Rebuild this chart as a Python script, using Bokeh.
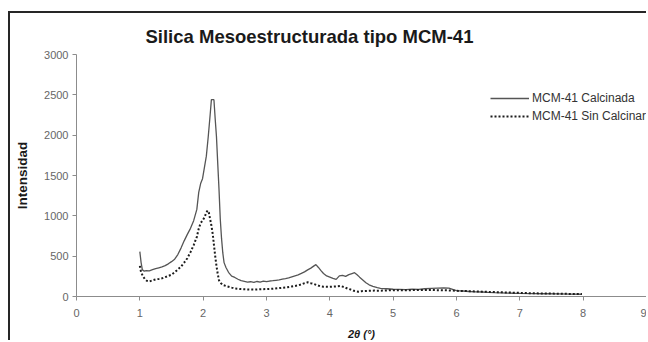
from bokeh.plotting import figure
from bokeh.models import Range1d, FixedTicker, Legend, LegendItem
from bokeh.embed import file_html
from bokeh.resources import INLINE

# ---- data ----
x_ticks = [0, 1, 2, 3, 4, 5, 6, 7, 8, 9]
y_ticks = [0, 500, 1000, 1500, 2000, 2500, 3000]

calc_x = [1.00, 1.02, 1.04, 1.07, 1.10, 1.15, 1.20, 1.25, 1.30, 1.35, 1.40, 1.45, 1.50,
          1.55, 1.60, 1.65, 1.70, 1.75, 1.80, 1.85, 1.90, 1.93, 1.96, 1.99, 2.02, 2.05,
          2.08, 2.11, 2.13, 2.17, 2.19, 2.21, 2.23, 2.25, 2.27, 2.29, 2.31, 2.33, 2.36,
          2.40, 2.45, 2.50, 2.55, 2.60, 2.65, 2.70, 2.75, 2.80, 2.85, 2.90, 2.95, 3.00,
          3.05, 3.10, 3.15, 3.20, 3.25, 3.30, 3.35, 3.40, 3.45, 3.50, 3.55, 3.60, 3.65,
          3.70, 3.75, 3.78, 3.82, 3.86, 3.90, 3.95, 4.00, 4.05, 4.10, 4.15, 4.20, 4.25,
          4.30, 4.35, 4.39, 4.43, 4.47, 4.52, 4.57, 4.62, 4.68, 4.75, 4.80, 4.90, 5.00,
          5.10, 5.20, 5.30, 5.40, 5.50, 5.60, 5.70, 5.80, 5.88, 5.95, 6.00, 6.10, 6.20,
          6.30, 6.40, 6.50, 6.60, 6.70, 6.80, 6.90, 7.00, 7.20, 7.40, 7.60, 7.80, 7.98]
calc_y = [556, 420, 330, 315, 322, 318, 332, 345, 356, 366, 382, 405, 432,
          462, 520, 600, 690, 770, 845, 940, 1080, 1290, 1400, 1460, 1600, 1740,
          1980, 2250, 2440, 2440, 2200, 1980, 1650, 1330, 960, 720, 540, 420, 360,
          300, 252, 236, 214, 196, 188, 178, 183, 175, 186, 178, 190, 184,
          192, 196, 201, 205, 214, 222, 231, 244, 256, 268, 286, 305, 330,
          352, 380, 395, 360, 320, 285, 255, 240, 225, 212, 255, 262, 250,
          272, 285, 295, 270, 240, 205, 170, 145, 125, 110, 100, 96, 90,
          88, 86, 92, 88, 96, 100, 104, 106, 104, 85, 74, 68, 62,
          58, 56, 50, 47, 45, 43, 40, 38, 36, 34, 32, 30, 28]

sin_x = [1.00, 1.02, 1.05, 1.08, 1.11, 1.15, 1.20, 1.25, 1.30, 1.35, 1.40, 1.45, 1.50,
         1.55, 1.60, 1.65, 1.70, 1.75, 1.80, 1.85, 1.90, 1.93, 1.96, 1.99, 2.02, 2.05,
         2.07, 2.09, 2.11, 2.13, 2.15, 2.17, 2.19, 2.21, 2.23, 2.25, 2.28, 2.32, 2.38,
         2.45, 2.50, 2.55, 2.60, 2.70, 2.80, 2.90, 3.00, 3.10, 3.20, 3.30, 3.40, 3.50,
         3.55, 3.60, 3.65, 3.70, 3.75, 3.80, 3.85, 3.90, 4.00, 4.10, 4.17, 4.22, 4.28,
         4.33, 4.38, 4.45, 4.50, 4.60, 4.70, 4.80, 4.90, 5.00, 5.20, 5.40, 5.60, 5.75,
         5.90, 6.00, 6.20, 6.40, 6.60, 6.80, 7.00, 7.20, 7.40, 7.60, 7.80, 7.98]
sin_y = [380, 300, 250, 215, 195, 186, 200, 212, 218, 225, 240, 255, 270,
         300, 335, 370, 420, 474, 550, 637, 740, 841, 910, 940, 980, 1040,
         1066, 1040, 960, 880, 780, 640, 500, 380, 280, 200, 165, 140, 125,
         110, 100, 96, 92, 88, 86, 90, 92, 96, 104, 112, 124, 138,
         150, 165, 176, 165, 155, 140, 127, 122, 120, 125, 130, 118, 98,
         86, 70, 60, 66, 70, 73, 72, 75, 78, 78, 80, 80, 78,
         75, 70, 66, 60, 55, 50, 45, 40, 37, 35, 32, 30]

series_names = ["MCM-41 Calcinada", "MCM-41 Sin Calcinar"]
title_text = "Silica Mesoestructurada tipo MCM-41"
x_label = "2\u03b8 (\u00b0)"
y_label = "Intensidad"

FONT = "Liberation Sans"

p = figure(width=638, height=329, output_backend="svg", toolbar_location=None,
           x_range=Range1d(0, 9), y_range=Range1d(0, 3000),
           min_border_left=66, min_border_right=2, min_border_top=41, min_border_bottom=43)
p.styles = {"border-top": "2px solid #262626", "border-left": "2px solid #262626",
            "margin-top": "11px", "margin-left": "8px"}
p.background_fill_color = "white"
p.border_fill_color = "white"
p.outline_line_color = None
p.xgrid.visible = False
p.ygrid.visible = False

p.title.text = title_text
p.title.text_font = FONT
p.title.text_font_size = "18.5px"
p.title.text_font_style = "bold"
p.title.text_color = "#1a1a1a"
p.title.align = "left"
p.title.offset = 69
p.title.standoff = 11
p.title.vertical_align = "top"

for ax in (p.xaxis[0], p.yaxis[0]):
    ax.axis_line_color = "#8c8c8c"
    ax.major_tick_line_color = "#8c8c8c"
    ax.minor_tick_line_color = None
    ax.major_tick_out = 4
    ax.major_tick_in = 0
    ax.major_label_text_font = FONT
    ax.major_label_text_font_size = "11px"
    ax.major_label_text_color = "#666666"
    ax.axis_label_text_font = FONT
    ax.axis_label_text_color = "#1a1a1a"

p.xaxis.ticker = FixedTicker(ticks=x_ticks)
p.yaxis.ticker = FixedTicker(ticks=y_ticks)
p.xaxis.major_label_standoff = 8
p.yaxis.major_label_standoff = 4

p.xaxis.axis_label = x_label
p.xaxis.axis_label_text_font_size = "11px"
p.xaxis.axis_label_text_font_style = "bold italic"
p.xaxis.axis_label_standoff = 8

p.yaxis.axis_label = y_label
p.yaxis.axis_label_text_font_size = "13.5px"
p.yaxis.axis_label_text_font_style = "bold"
p.yaxis.axis_label_standoff = 11

r1 = p.line(calc_x, calc_y, line_color="#555555", line_width=1.3)
r2 = p.line(sin_x, sin_y, line_color="#1c1c1c", line_width=2.0, line_dash="2 2")

legend = Legend(items=[LegendItem(label=series_names[0], renderers=[r1]),
                       LegendItem(label=series_names[1], renderers=[r2])],
                location=(414, 171), orientation="vertical")
legend.glyph_width = 39
legend.glyph_height = 18
legend.label_height = 18
legend.label_standoff = 3
legend.spacing = 0
legend.padding = 0
legend.margin = 0
legend.border_line_color = None
legend.background_fill_alpha = 0
legend.label_text_font = FONT
legend.label_text_font_size = "12px"
legend.label_text_color = "#333333"
p.add_layout(legend)

open("out.html", "w").write(file_html(p, INLINE))
